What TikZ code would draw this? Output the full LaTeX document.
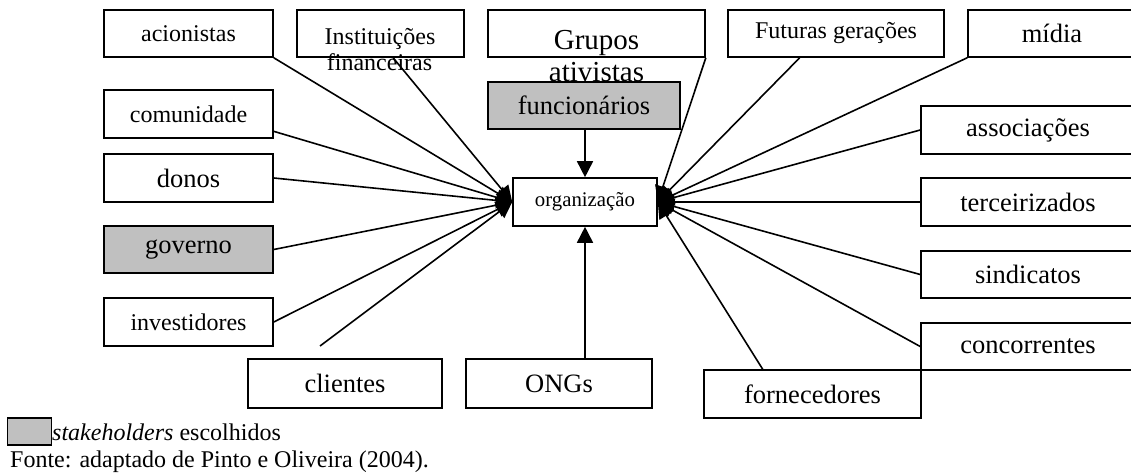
\documentclass[tikz,border=0pt]{standalone}
\usepackage{fontspec}
\setmainfont{Liberation Serif}
\usetikzlibrary{arrows.meta,calc}
\definecolor{stkgray}{HTML}{C0C0C0}
\begin{document}
\begin{tikzpicture}[x=1pt,y=-1pt,
  box/.style={draw,line width=1.6pt,inner sep=0pt,minimum height=47,font=\fontsize{26.5}{28}\selectfont},
  sbox/.style={box,font=\fontsize{24}{26}\selectfont},
  chosen/.style={fill=stkgray},
  txt/.style={inner sep=0pt,anchor=base},
  conn/.style={line width=1.6pt,-{Triangle[length=16pt,width=16pt]}}]
\useasboundingbox (0,0) rectangle (1131,473);
% top row
\node[sbox,minimum width=169] (aci) at (188.5,33.5) {acionistas};
\node[box,minimum width=167] (inst) at (380.5,33.5) {};
\node[txt,font=\fontsize{24}{26}\selectfont] (instA) at (380,45) {Instituições};
\node[txt,font=\fontsize{24}{26}\selectfont] (instB) at (379.5,71) {financeiras};
\node[box,minimum width=217] (grp) at (596.5,33.5) {};
\node[txt,font=\fontsize{29}{31}\selectfont] (grpA) at (596.5,50) {Grupos};
\node[txt,font=\fontsize{29}{31}\selectfont] (grpB) at (596.5,81.5) {ativistas};
\node[sbox,minimum width=216] (fut) at (836,33.5) {Futuras gerações};
\node[box,minimum width=168] (mid) at (1052,33.5) {mídia};
% left column
\node[sbox,minimum width=169,minimum height=48] (com) at (188.5,114) {comunidade};
\node[box,minimum width=169,minimum height=48] (don) at (188.5,178) {donos};
\node[box,chosen,minimum width=169] (gov) at (188.5,249.5) {governo};
\node[sbox,minimum width=169,minimum height=48] (inv) at (188.5,322) {investidores};
% right column
\node[box,minimum width=214,minimum height=48] (asc) at (1028,130) {associações};
\node[box,minimum width=214,minimum height=48] (ter) at (1028,202) {terceirizados};
\node[box,minimum width=214] (sin) at (1028,274.5) {sindicatos};
\node[box,minimum width=214] (con) at (1028,346.5) {concorrentes};
\node[box,minimum width=217,minimum height=48] (forn) at (812.5,394) {fornecedores};
% bottom
\node[box,minimum width=194,minimum height=49] (cli) at (345,383.5) {clientes};
\node[box,minimum width=186,minimum height=49] (ong) at (559,383.5) {ONGs};
% centre
\node[box,chosen,minimum width=192] (fun) at (584,105.5) {funcionários};
\node[box,minimum width=144,minimum height=48,font=\fontsize{20.8}{23}\selectfont] (org) at (585,202) {organização};
% connectors, left
\coordinate (cliend) at (320,346);
\draw[conn] (aci.south east) -- (org.west);
\draw[conn] ($(inst.south west)!0.575!(inst.south east)$) -- (org.west);
\draw[conn] ($(com.south east)!0.15!(com.north east)$) -- (org.west);
\draw[conn] (don.east) -- (org.west);
\draw[conn] (gov.east) -- (org.west);
\draw[conn] (inv.east) -- (org.west);
\draw[conn] (cliend) -- (org.west);
% connectors, right
\draw[conn] (grp.south east) -- (org.east);
\draw[conn] ($(fut.south west)!0.333!(fut.south east)$) -- (org.east);
\draw[conn] (mid.south west) -- (org.east);
\draw[conn] (asc.west) -- (org.east);
\draw[conn] (ter.west) -- (org.east);
\draw[conn] (sin.west) -- (org.east);
\draw[conn] (con.west) -- (org.east);
\draw[conn] ($(forn.north west)!0.272!(forn.north east)$) -- (org.east);
% vertical
\draw[conn] (org.north |- fun.south) -- (org.north);
\draw[conn] (ong.north -| org.south) -- (org.south);
% legend
\node[draw,line width=1.6pt,fill=stkgray,minimum width=44,minimum height=27,inner sep=0pt] (leg) at (29.5,431.5) {};
\node[txt,anchor=base west,font=\fontsize{24}{26}\selectfont] (legtxt) at (52,440) {\textit{stakeholders} escolhidos};
\node[txt,anchor=base west,font=\fontsize{24}{26}\selectfont] (fonte) at (10,467) {Fonte: adaptado de Pinto e Oliveira (2004).};
\end{tikzpicture}
\end{document}
